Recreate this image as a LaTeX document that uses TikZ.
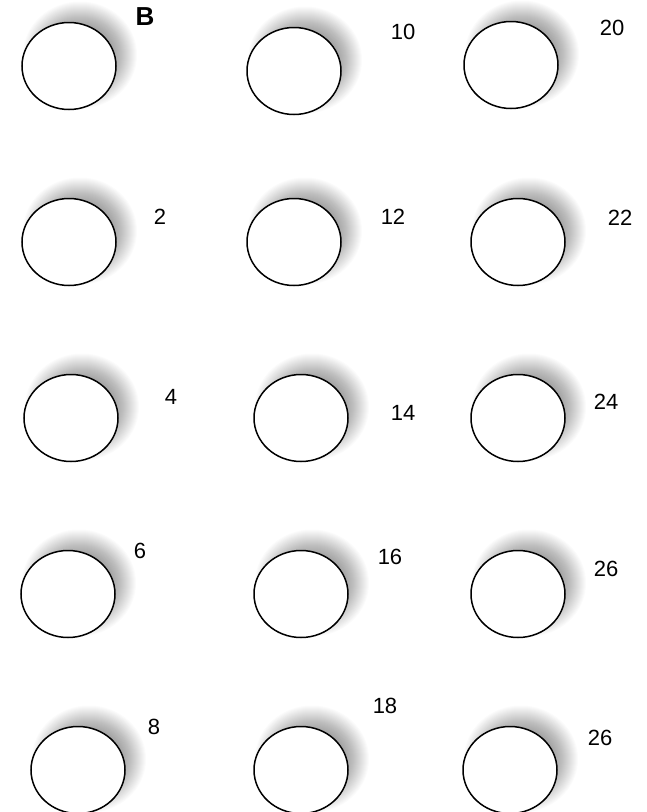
\documentclass[tikz,border=0pt]{standalone}
\usepackage{fontspec}
\setmainfont{Liberation Sans}
\usetikzlibrary{shapes.geometric}
\begin{document}
\begin{tikzpicture}[x=1pt,y=-1pt,
  hole/.style={ellipse, draw=black, line width=1.5pt, fill=white,
    minimum width=94pt, minimum height=87pt, inner sep=0pt},
  softlayer/.style={fill=black, fill opacity=0.017},
  num/.style={font=\fontsize{22}{26}\selectfont, inner sep=0pt},
  big/.style={font=\fontsize{26}{30}\selectfont\bfseries, inner sep=0pt}]
\useasboundingbox[fill=white] (0,0) rectangle (646,812);
\foreach \n/\x/\y in {a1/69/66, a2/294/71, a3/511/65,
                      b1/69/242, b2/294/242, b3/518/242,
                      c1/71/418, c2/301/418, c3/518/418,
                      d1/68/594, d2/301/594, d3/518/594,
                      e1/78/770, e2/301/770, e3/510/770}{
  \foreach \s in {-13,...,10}{
    \fill[softlayer] (\x+11,\y-11) ellipse [x radius={47+\s}, y radius={43.5+\s}];
  }
  \node[hole] (\n) at (\x,\y) {};
}
% labels
\node[big] (lB) at (145,17) {B};
\node[num] (l10) at (403,32) {10};
\node[num] (l20) at (612,28) {20};
\node[num] (l2) at (160,217) {2};
\node[num] (l12) at (393,217) {12};
\node[num] (l22) at (620,218) {22};
\node[num] (l4) at (171,397) {4};
\node[num] (l14) at (403,413) {14};
\node[num] (l24) at (606,402) {24};
\node[num] (l6) at (140,551) {6};
\node[num] (l16) at (390,557) {16};
\node[num] (l26a) at (606,569) {26};
\node[num] (l8) at (154,727) {8};
\node[num] (l18) at (385,706) {18};
\node[num] (l26b) at (600,738) {26};
\end{tikzpicture}
\end{document}
